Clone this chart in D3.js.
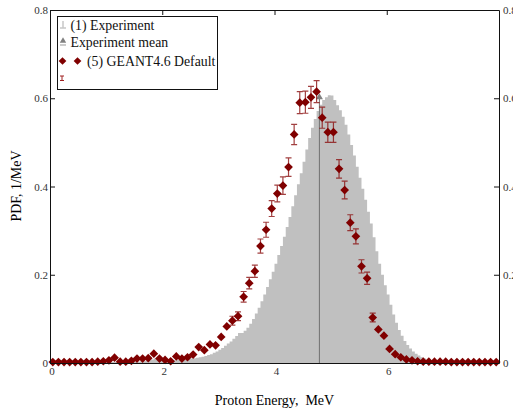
<!DOCTYPE html>
<html>
<head>
<meta charset="utf-8">
<title>Proton energy PDF</title>
<style type="text/css">
  body { margin: 0; background: #fff; }
  svg { display: block; }
  text { font-family: "Liberation Serif", "DejaVu Serif", serif; }
</style>
<script src="https://cdn.jsdelivr.net/npm/d3@7"></script>
</head>
<body>
<script type="text/javascript">

// experiment histogram, bins of 0.05 MeV starting at 0
var expBinWidth = 0.05;
var expValues = [
  0,0,0,0,0,0,0,0,0,0, 0,0,0,0,0,0,0.001,0.001,0.001,0.001,
  0.002,0.002,0.002,0.002,0.002,0.002,0.002,0.002,0.002,0.002,
  0.003,0.003,0.004,0.004,0.005,0.006,0.008,0.010,0.008,0.006,
  0.005,0.005,0.005,0.006,0.006,0.007,0.007,0.008,0.008,0.009,
  0.010,0.011,0.012,0.013,0.014,0.016,0.018,0.020,0.023,0.026,
  0.030,0.034,0.039,0.044,0.049,0.055,0.061,0.068,0.068,0.073,
  0.080,0.089,0.100,0.112,0.125,0.140,0.155,0.172,0.190,0.207,
  0.225,0.245,0.265,0.286,0.308,0.331,0.355,0.380,0.405,0.430,
  0.456,0.484,0.510,0.533,0.553,0.571,0.585,0.596,0.602,0.607,
  0.606,0.596,0.584,0.573,0.558,0.540,0.518,0.494,0.470,0.445,
  0.420,0.395,0.370,0.343,0.316,0.285,0.253,0.225,0.200,0.176,
  0.155,0.132,0.110,0.091,0.075,0.062,0.050,0.041,0.033,0.026,
  0.021,0.017,0.013,0.010,0.008,0.006,0.005,0.004,0.003,0.003,
  0.002,0.002,0.002,0.001,0.001,0.001,0.001,0.001,0.001,0.001,
  0,0,0,0,0,0,0,0,0,0
];

var expMean = 4.80;
var expMeanTop = 0.600;

// GEANT4.6 default, 0.1 MeV bins (centres)
var simEnergy = d3.range(80).map(function(i) { return +(0.05 + i * 0.1).toFixed(2); });
var simValues = [
  0.002,0.002,0.002,0.002,0.002,0.002,0.002,0.002,0.003,0.004,
  0.006,0.012,0.003,0.003,0.005,0.010,0.010,0.011,0.021,0.010,
  0.007,0.004,0.015,0.010,0.013,0.019,0.036,0.029,0.042,0.040,
  0.059,0.083,0.096,0.106,0.150,0.181,0.208,0.265,0.302,0.350,
  0.384,0.402,0.444,0.518,0.590,0.591,0.602,0.615,0.556,0.523,
  0.523,0.440,0.392,0.318,0.287,0.219,0.192,0.103,0.076,0.062,
  0.032,0.020,0.013,0.008,0.006,0.004,0.003,0.003,0.003,0.003,
  0.003,0.002,0.002,0.002,0.002,0.002,0.002,0.002,0.002,0.002
];
var simErrors = [
  0.002,0.002,0.002,0.002,0.002,0.002,0.002,0.002,0.003,0.003,
  0.003,0.004,0.003,0.003,0.003,0.004,0.004,0.004,0.005,0.004,
  0.004,0.003,0.004,0.004,0.004,0.005,0.006,0.006,0.007,0.007,
  0.008,0.009,0.010,0.010,0.012,0.013,0.014,0.016,0.017,0.018,
  0.019,0.020,0.021,0.023,0.025,0.025,0.025,0.025,0.024,0.023,
  0.023,0.021,0.020,0.018,0.017,0.015,0.014,0.010,0.009,0.008,
  0.006,0.005,0.004,0.003,0.003,0.003,0.002,0.002,0.002,0.002,
  0.002,0.002,0.002,0.002,0.002,0.002,0.002,0.002,0.002,0.002
];

var xTicks = [0, 2, 4, 6];
var yTicks = [0, 0.2, 0.4, 0.6, 0.8];
var legendLabels = ["(1) Experiment", "Experiment mean", "(5) GEANT4.6 Default"];

var W = 513, H = 414;
var margin = {left: 50, top: 10, right: 14, bottom: 51};
var darkRed = "#800000";

var svg = d3.select("body").append("svg")
  .attr("width", W)
  .attr("height", H);

var x = d3.scaleLinear().domain([0, 8]).range([margin.left, W - margin.right]);
var y = d3.scaleLinear().domain([0, 0.8]).range([H - margin.bottom, margin.top]);

// histogram (step area)
var histPts = expValues.map(function(v, i) { return [i * expBinWidth, v]; });
histPts.push([expValues.length * expBinWidth, expValues[expValues.length - 1]]);

svg.append("path")
  .datum(histPts)
  .attr("fill", "#c0c0c0")
  .attr("d", d3.area()
    .curve(d3.curveStepAfter)
    .x(function(d) { return x(d[0]); })
    .y0(y(0))
    .y1(function(d) { return y(d[1]); }));

// experiment mean marker
svg.append("line")
  .attr("x1", x(expMean)).attr("x2", x(expMean))
  .attr("y1", y(0)).attr("y2", y(expMeanTop))
  .attr("stroke", "#707070")
  .attr("stroke-width", 1);

var tri = d3.symbol().type(d3.symbolTriangle).size(22);
svg.append("path")
  .attr("d", tri())
  .attr("transform", "translate(" + x(expMean) + "," + (y(expMeanTop) - 1) + ")")
  .attr("fill", "#808080");

// simulation points
var diamond = {
  draw: function(ctx, size) {
    var r = Math.sqrt(size / 2);
    ctx.moveTo(0, -r);
    ctx.lineTo(r, 0);
    ctx.lineTo(0, r);
    ctx.lineTo(-r, 0);
    ctx.closePath();
  }
};

var sim = simEnergy.map(function(e, i) { return {e: e, v: simValues[i], err: simErrors[i]}; });

var bars = svg.append("g")
  .attr("stroke", "#8b1010")
  .attr("stroke-opacity", 0.8)
  .attr("stroke-width", 1.2);

bars.selectAll("path")
  .data(sim.filter(function(d) { return y(d.v - d.err) - y(d.v + d.err) > 8; }))
  .enter()
  .append("path")
  .attr("fill", "none")
  .attr("d", function(d) {
    var cx = x(d.e), t = y(d.v + d.err), b = y(d.v - d.err);
    return "M" + (cx - 3) + "," + t + "H" + (cx + 3) +
           "M" + cx + "," + t + "V" + b +
           "M" + (cx - 3) + "," + b + "H" + (cx + 3);
  });

svg.append("g").selectAll("path")
  .data(sim)
  .enter()
  .append("path")
  .attr("d", d3.symbol().type(diamond).size(38))
  .attr("transform", function(d) { return "translate(" + x(d.e) + "," + y(d.v) + ")"; })
  .attr("fill", darkRed);

// axes
function styleAxis(g) {
  g.attr("font-family", "Liberation Serif, serif").attr("font-size", 11);
  g.selectAll(".domain").attr("stroke", "#111");
  g.selectAll(".tick line").attr("stroke", "#111");
  g.selectAll(".tick text").attr("fill", "#333");
}

var yFmt = function(d) { return d === 0 ? "0" : d3.format(".1f")(d); };

svg.append("g")
  .attr("transform", "translate(" + x(0) + ",0)")
  .call(d3.axisLeft(y).tickValues(yTicks).tickFormat(yFmt).tickSize(-5).tickSizeOuter(0).tickPadding(2))
  .call(styleAxis);

svg.append("g")
  .attr("transform", "translate(" + x(8) + ",0)")
  .call(d3.axisRight(y).tickValues(yTicks).tickFormat(yFmt).tickSize(-5).tickSizeOuter(0).tickPadding(4))
  .call(styleAxis);

svg.append("g")
  .attr("transform", "translate(0," + y(0.8) + ")")
  .call(d3.axisTop(x).tickValues([2, 4, 6]).tickFormat("").tickSize(-5).tickSizeOuter(0))
  .call(styleAxis);

var xAxis = svg.append("g")
  .attr("transform", "translate(0," + y(0) + ")")
  .call(d3.axisBottom(x).tickValues(xTicks).tickFormat(d3.format("d")).tickSize(0).tickSizeOuter(0).tickPadding(4))
  .call(styleAxis);
xAxis.selectAll(".tick text").attr("dx", 1.6);

// axis titles
svg.append("text")
  .attr("x", (x(0) + x(8)) / 2)
  .attr("y", 405)
  .attr("text-anchor", "middle")
  .attr("font-size", 14)
  .style("white-space", "pre")
  .text("Proton Energy,  MeV");

svg.append("text")
  .attr("transform", "translate(21,186) rotate(-90)")
  .attr("text-anchor", "middle")
  .attr("font-size", 14)
  .text("PDF, 1/MeV");

// legend
var leg = svg.append("g");
leg.append("rect")
  .attr("x", 57.5).attr("y", 16.5)
  .attr("width", 160).attr("height", 73)
  .attr("fill", "#fff")
  .attr("stroke", "#111");

var rowY = [25, 42.5, 61];
var textX = [70.5, 70.5, 87];
legendLabels.forEach(function(t, i) {
  leg.append("text")
    .attr("x", textX[i]).attr("y", rowY[i])
    .attr("dy", "0.35em")
    .attr("font-size", 13.8)
    .attr("fill", "#111")
    .text(t);
});

// row 1: light gray experiment glyph
leg.append("path")
  .attr("d", "M63," + (rowY[0] - 4) + "V" + (rowY[0] + 3) + "M60," + (rowY[0] + 3) + "H66")
  .attr("stroke", "#c8c8c8").attr("stroke-width", 1.5).attr("fill", "none");

// row 2: mean glyph
leg.append("path")
  .attr("d", tri.size(18)())
  .attr("transform", "translate(63," + (rowY[1] - 1.5) + ")")
  .attr("fill", "#808080");
leg.append("path")
  .attr("d", "M60," + (rowY[1] + 2.5) + "H66")
  .attr("stroke", "#999").attr("stroke-width", 1);

// row 3: two diamonds
[62.5, 77.5].forEach(function(cx) {
  leg.append("path")
    .attr("d", d3.symbol().type(diamond).size(30)())
    .attr("transform", "translate(" + cx + "," + rowY[2] + ")")
    .attr("fill", darkRed);
});

// row 4: error bar glyph
leg.append("path")
  .attr("d", "M60,76H64M62,76V80.5M60,80.5H64")
  .attr("stroke", "#a02020").attr("stroke-width", 1).attr("fill", "none");

</script>
</body>
</html>
